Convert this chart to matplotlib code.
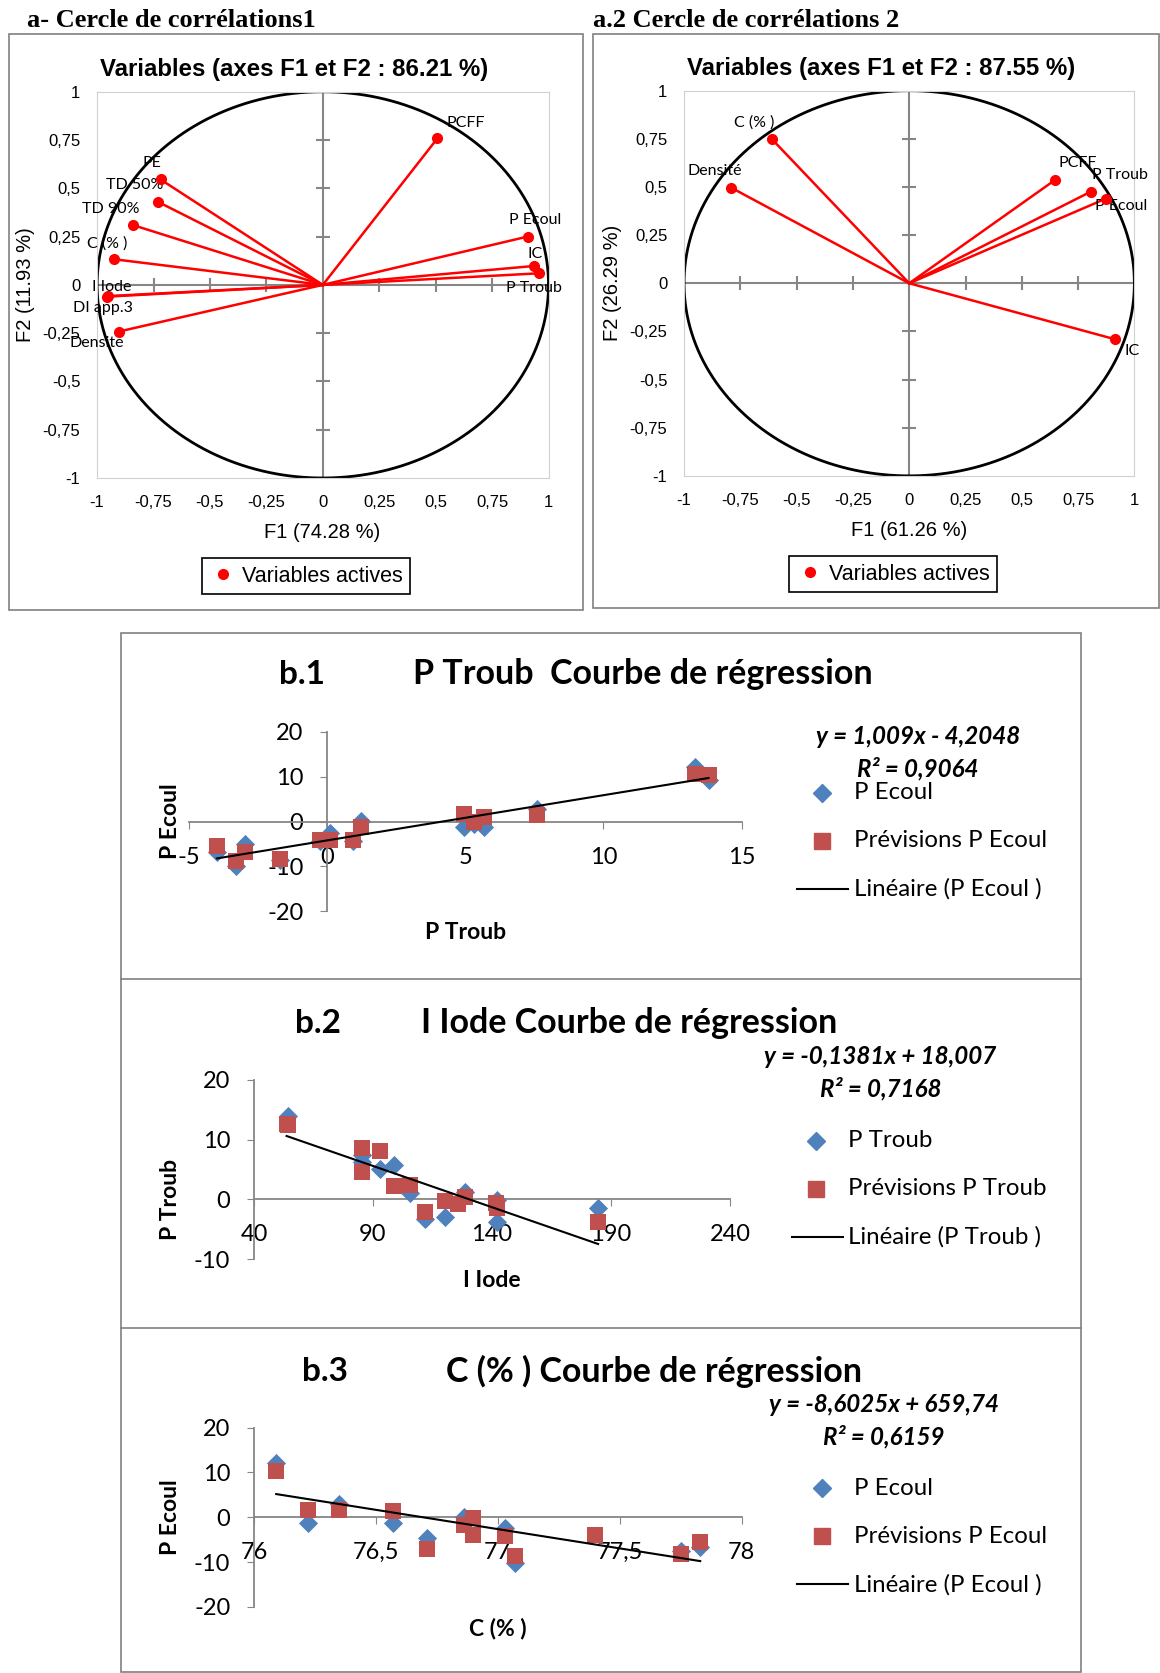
import numpy as np
import matplotlib.pyplot as plt
from matplotlib.lines import Line2D
from matplotlib.patches import Rectangle

# reference is laid out in a 1087 x 1568 grid
W, H = 1087, 1568

# ---- correlation circle 1
c1_names = ['PCFF', 'P Ecoul', 'IC', 'P Troub', 'PE', 'TD 50%', 'TD 90%',
            'C (% )', 'I Iode', 'DI app.3', 'Densité']
c1_f1 = [0.508, 0.907, 0.937, 0.959, -0.719, -0.732, -0.842, -0.927, -0.955, -0.950, -0.905]
c1_f2 = [0.759, 0.250, 0.098, 0.060, 0.546, 0.431, 0.310, 0.133, -0.061, -0.058, -0.242]

# ---- correlation circle 2
c2_names = ['C (% )', 'Densité', 'PCFF', 'P Troub', 'P Ecoul', 'IC']
c2_f1 = [-0.611, -0.790, 0.647, 0.807, 0.874, 0.915]
c2_f2 = [0.750, 0.496, 0.536, 0.476, 0.440, -0.291]

# ---- b.1 : P Ecoul vs P Troub
b1_x = [-3.99, -3.29, -2.97, -1.69, -0.24, 0.11, 0.92, 1.22, 4.97, 5.32, 5.67, 7.6, 13.3, 13.8]
b1_obs = [-6.9, -10.0, -5.0, -8.5, -4.3, -2.55, -4.3, 0.2, -1.3, -0.5, -1.3, 2.85, 12.2, 9.2]
b1_pred = [-5.4, -8.8, -6.9, -8.25, -4.1, -4.1, -4.1, -1.3, 1.7, -0.15, 1.1, 1.5, 10.6, 10.35]

# ---- b.2 : P Troub vs I Iode
b2_x_obs = [54.2, 85.2, 85.2, 93.1, 98.8, 105.4, 111.8, 120.2, 128.7, 142.3, 142.3, 184.6]
b2_obs = [14.0, 7.4, 6.3, 5.0, 5.75, 1.1, -3.35, -2.9, 1.2, -0.1, -3.85, -1.5]
b2_x_pred = [53.7, 54.5, 85.2, 85.2, 93.1, 98.9, 105.4, 111.8, 120.2, 125.8, 128.7, 141.9, 142.3, 184.6]
b2_pred = [12.6, 12.4, 8.55, 4.5, 8.15, 2.2, 2.35, -2.1, -0.3, -0.85, 0.45, -0.67, -1.5, -3.85]

# ---- b.3 : P Ecoul vs C (%)
b3_x_obs = [76.091, 76.222, 76.35, 76.57, 76.71, 76.86, 77.03, 77.07, 77.75, 77.83]
b3_obs = [12.1, -1.2, 2.9, -1.2, -4.7, 0.15, -2.5, -10.3, -7.5, -6.6]
b3_x_pred = [76.091, 76.222, 76.35, 76.57, 76.71, 76.86, 76.9, 76.9, 77.03, 77.07, 77.4, 77.75, 77.83]
b3_pred = [10.4, 1.65, 1.65, 1.3, -7.0, -1.7, -0.2, -4.0, -4.2, -8.6, -4.0, -8.1, -5.5]

# label offsets (points) for the circle labels
c1_off = [(20, 11), (5.5, 12), (0.7, 8.5), (-4, -10.8), (-6, 12), (-16.5, 12), (-15.5, 11.5),
          (-4.7, 11.5), (3.5, 7), (-4, -8.5), (-16, -8.5)]
c2_off = [(-12.7, 11.5), (-12, 12), (16.5, 12), (20.9, 12), (11.2, -5.3), (12.3, -8.5)]

BLUE = '#4F81BD'
RED = '#C0504D'
GRID = '#868686'
ARIAL = 'Liberation Sans'
CALIBRI = 'Lato'


def fx(x):
    return x / W


def fy(y):
    return 1 - y / H


def rect(x0, y0, x1, y1):
    return [x0 / W, 1 - y1 / H, (x1 - x0) / W, (y1 - y0) / H]


def fr(v):
    s = f'{v:g}'.replace('.', ',')
    return '0' if s == '-0' else s


fig = plt.figure(figsize=(11.6, 16.73), dpi=100)

# panel frames
for (x0, y0, x1, y1) in [(8, 32, 546, 572), (556, 32, 1086, 570), (113, 593, 1013, 1567)]:
    fig.add_artist(Rectangle((fx(x0), fy(y1)), (x1 - x0) / W, (y1 - y0) / H,
                             transform=fig.transFigure, fill=False, ec='#808080', lw=1.2))
for y in [918, 1245]:
    fig.add_artist(Line2D([fx(113), fx(1013)], [fy(y), fy(y)], transform=fig.transFigure,
                          color='#808080', lw=1.2))

fig.text(fx(25), fy(19), 'a- Cercle de corrélations1', family='Liberation Serif',
         weight='bold', size=19, va='center')
fig.text(fx(556), fy(19), 'a.2 Cercle de corrélations 2', family='Liberation Serif',
         weight='bold', size=19, va='center')


def circle_chart(box, names, f1, f2, offs, title, xl, yl, cx, cy, tx):
    ax = fig.add_axes(rect(*box))
    t = np.linspace(0, 2 * np.pi, 400)
    ax.plot(np.cos(t), np.sin(t), color='black', lw=2, zorder=2)
    ax.axhline(0, color=GRID, lw=1.5, zorder=1)
    ax.axvline(0, color=GRID, lw=1.5, zorder=1)
    ticks = np.arange(-1, 1.01, 0.25)
    ax.plot(np.zeros(len(ticks)), ticks, ls='', marker='_', ms=10, mew=1.5, color=GRID, zorder=1)
    ax.plot(ticks, np.zeros(len(ticks)), ls='', marker='|', ms=10, mew=1.5, color=GRID, zorder=1)
    for name, x, y, off in zip(names, f1, f2, offs):
        ax.plot([0, x], [0, y], color='red', lw=1.8, zorder=3)
        ax.plot(x, y, 'o', color='red', ms=7, zorder=4)
        ax.annotate(name, (x, y), xytext=off, textcoords='offset points', ha='center',
                    va='center', family=CALIBRI, size=11.5)
    ax.set_xlim(-1, 1)
    ax.set_ylim(-1, 1)
    ax.set_xticks(ticks)
    ax.set_xticklabels([fr(v) for v in ticks])
    ax.set_yticks(ticks)
    ax.set_yticklabels([fr(v) for v in ticks])
    ax.tick_params(length=0, pad=12, labelsize=12)
    for lab in ax.get_xticklabels() + ax.get_yticklabels():
        lab.set_family(ARIAL)
    for s in ax.spines.values():
        s.set_color('#d0d0d0')
    fig.text(fx(tx), fy(box[1] - 21), title, family=ARIAL, weight='bold', size=17.3,
             ha='center', va='center')
    fig.text(fx(cx), fy(box[3] + 51), xl, family=ARIAL, size=14.5, ha='center', va='center')
    fig.text(fx(box[0] - 67), fy(cy), yl, family=ARIAL, size=14.5, ha='center', va='center',
             rotation=90)
    leg = fig.legend(handles=[Line2D([], [], marker='o', color='red', ls='', ms=7)],
                     labels=['Variables actives'], loc='center',
                     bbox_to_anchor=(fx(cx - 15), fy(box[3] + 92)), frameon=True,
                     fancybox=False, edgecolor='black', framealpha=1,
                     prop={'family': ARIAL, 'size': 15.5}, handletextpad=0.3,
                     handlelength=1.2, borderpad=0.35)
    leg.get_frame().set_linewidth(1.2)
    return ax


circle_chart((91, 86, 514, 448), c1_names, c1_f1, c1_f2, c1_off,
             'Variables (axes F1 et F2 : 86.21 %)', 'F1 (74.28 %)', 'F2 (11.93 %)', 302, 267, 276)
circle_chart((641, 85, 1063, 446), c2_names, c2_f1, c2_f2, c2_off,
             'Variables (axes F1 et F2 : 87.55 %)', 'F1 (61.26 %)', 'F2 (26.29 %)', 852, 265, 826)


def reg_chart(box, xo, yo, xp, yp, slope, icpt, xlim, ylim, xticks, yticks, xfmt,
              tag, title, tagx, titx, ty, xl, yl, obs_name, eq, r2, eqx, eqy, legx):
    ax = fig.add_axes(rect(*box))
    ax.scatter(xo, yo, marker='D', s=95, color=BLUE, zorder=3, lw=0)
    ax.scatter(xp, yp, marker='s', s=120, color=RED, zorder=4, lw=0)
    xall = np.array(list(xo) + list(xp))
    xs = np.array([xall.min(), xall.max()])
    ax.plot(xs, slope * xs + icpt, color='black', lw=1.5, zorder=5)
    ax.set_xlim(*xlim)
    ax.set_ylim(*ylim)
    ax.spines['top'].set_visible(False)
    ax.spines['right'].set_visible(False)
    ax.spines['left'].set_position(('data', xlim[0] if xlim[0] > 0 else 0))
    ax.spines['bottom'].set_position(('data', 0))
    for s in ['left', 'bottom']:
        ax.spines[s].set_color(GRID)
        ax.spines[s].set_linewidth(1.3)
    ax.set_xticks(xticks)
    ax.set_xticklabels([xfmt(v) for v in xticks])
    ax.set_yticks(yticks)
    ax.set_yticklabels([str(v) for v in yticks])
    ax.tick_params(axis='x', length=5, color=GRID, pad=13, labelsize=17)
    ax.tick_params(axis='y', length=5, color=GRID, pad=12, labelsize=17)
    for lab in ax.get_xticklabels() + ax.get_yticklabels():
        lab.set_family(CALIBRI)
    ax.patch.set_alpha(0)

    top = box[1]
    fig.text(fx(tagx), fy(ty), tag, family=CALIBRI, weight='bold', size=24, ha='center', va='center')
    fig.text(fx(titx), fy(ty), title, family=CALIBRI, weight='bold', size=24.5, ha='center',
             va='center')
    # axis titles
    zero_y = box[1] + (box[3] - box[1]) * ylim[1] / (ylim[1] - ylim[0])
    fig.text(fx(160), fy(zero_y), yl, family=CALIBRI, weight='bold', size=16.5,
             ha='center', va='center', rotation=90)
    fig.text(fx((box[0] + box[2]) / 2), fy(box[3] + 20), xl,
             family=CALIBRI, weight='bold', size=16.5, ha='center', va='center')
    # equation
    fig.text(fx(eqx), fy(eqy), eq, family=CALIBRI, weight='bold', style='italic', size=17.4,
             ha='center', va='center')
    fig.text(fx(eqx), fy(eqy + 30), r2, family=CALIBRI, weight='bold', style='italic', size=17.4,
             ha='center', va='center')
    # legend entries
    fig.add_artist(Line2D([fx(legx)], [fy(top + 57)], transform=fig.transFigure, marker='D',
                          ms=9, color=BLUE, ls=''))
    fig.add_artist(Line2D([fx(legx)], [fy(top + 102)], transform=fig.transFigure, marker='s',
                          ms=11, color=RED, ls=''))
    fig.add_artist(Line2D([fx(legx - 23), fx(legx + 25)], [fy(top + 147)] * 2,
                          transform=fig.transFigure, color='black', lw=1.5))
    for dy, txt in [(57, obs_name), (102, 'Prévisions ' + obs_name),
                    (147, 'Linéaire (' + obs_name + ' )')]:
        fig.text(fx(legx + 30), fy(top + dy), txt, family=CALIBRI, size=17.3, va='center')
    return ax


def fint(v):
    return str(int(v))


reg_chart((177, 686, 695, 854), b1_x, b1_obs, b1_x, b1_pred, 1.009, -4.2048,
          (-5, 15), (-20, 20), [-5, 0, 5, 10, 15], [-20, -10, 0, 10, 20], fint,
          'b.1', 'P Troub  Courbe de régression', 283, 602, 632, 'P Troub', 'P Ecoul', 'P Ecoul',
          'y = 1,009x - 4,2048', 'R² = 0,9064', 860, 690, 770)
reg_chart((238, 1012, 684, 1180), b2_x_obs, b2_obs, b2_x_pred, b2_pred, -0.1381, 18.007,
          (40, 240), (-10, 20), [40, 90, 140, 190, 240], [-10, 0, 10, 20], fint,
          'b.2', 'I Iode Courbe de régression', 298, 590, 959, 'I Iode', 'P Troub', 'P Troub',
          'y = -0,1381x + 18,007', 'R² = 0,7168', 825, 990, 765)
reg_chart((238, 1338, 695, 1506), b3_x_obs, b3_obs, b3_x_pred, b3_pred, -8.6025, 659.74,
          (76, 78), (-20, 20), [76, 76.5, 77, 77.5, 78], [-20, -10, 0, 10, 20], fr,
          'b.3', 'C (% ) Courbe de régression', 305, 613, 1285, 'C (% )', 'P Ecoul', 'P Ecoul',
          'y = -8,6025x + 659,74', 'R² = 0,6159', 828, 1316, 770)

fig.savefig('out.png', dpi=100, facecolor='white')
